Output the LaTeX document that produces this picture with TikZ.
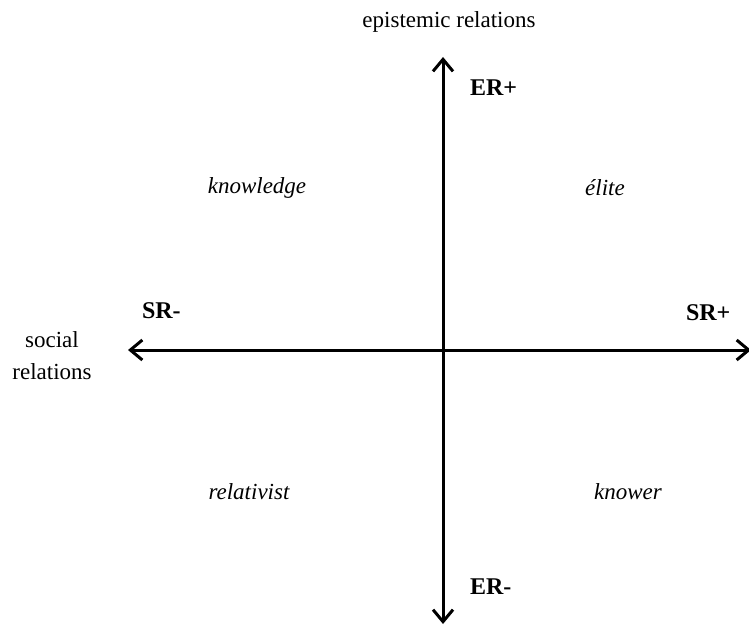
\documentclass[tikz,border=0pt]{standalone}
\usepackage{fontspec}
\setmainfont{Liberation Serif}
\usepackage{tikz}
\usetikzlibrary{arrows.meta,positioning}
\tikzset{
    axis/.style={
        {Straight Barb[length=6pt,width=10pt]}-{Straight Barb[length=6pt,width=10pt]},
        line width=1.5pt
    },
    pole/.style={
        font=\fontsize{12}{14}\selectfont\bfseries,
        anchor=west
    },
    quad/.style={
        font=\fontsize{11.5}{14}\selectfont\itshape
    },
    axlbl/.style={
        align=center,
        font=\fontsize{11.5}{16}\selectfont
    }
}
\begin{document}
\begin{tikzpicture}[x=0.5pt,y=-0.5pt]
\useasboundingbox (0,0) rectangle (749,626);

\coordinate (top) at (443,57);
\coordinate (bot) at (443,624);
\coordinate (left) at (128,350);
\coordinate (right) at (751,350);

\draw[axis] (bot) -- (top);
\draw[axis] (left) -- (right);

\node[axlbl] (er) at (449,22) {epistemic relations};
\node[axlbl] (sr) at (52,356) {social\\relations};

\node[pole] (erp) at (463,88) {ER+};
\node[pole] (erm) at (463,587) {ER-};
\node[pole] (srm) at (135,311) {SR-};
\node[pole] (srp) at (679,313) {SR+};

\node[quad] (know) at (257,188) {knowledge};
\node[quad] (elite) at (605,188) {élite};
\node[quad] (rel) at (249,492) {relativist};
\node[quad] (kwr) at (628,492) {knower};

\end{tikzpicture}
\end{document}
